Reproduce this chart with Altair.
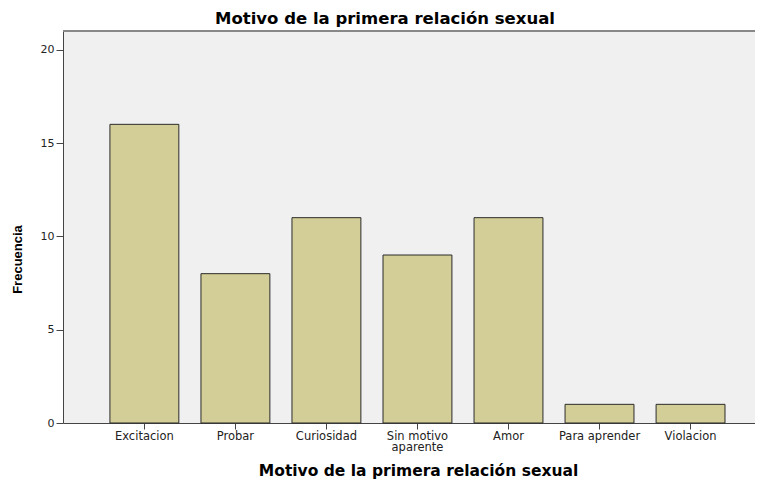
import altair as alt
import pandas as pd

categories = ["Excitacion", "Probar", "Curiosidad", "Sin motivo aparente", "Amor", "Para aprender", "Violacion"]
frecuencias = [16, 8, 11, 9, 11, 1, 1]
y_ticks = [0, 5, 10, 15, 20]

df = pd.DataFrame({"motivo": categories, "frecuencia": frecuencias})

label_expr = "datum.label == 'Sin motivo aparente' ? ['Sin motivo', 'aparente'] : datum.label"

bars = alt.Chart(df).mark_bar(
    color="#d3ce97", stroke="#2b2b2b", strokeWidth=1
).encode(
    x=alt.X(
        "motivo:N",
        sort=categories,
        scale=alt.Scale(paddingInner=0.243, paddingOuter=0.4226, align=0.61),
        axis=alt.Axis(
            title="Motivo de la primera relación sexual",
            titleFont="DejaVu Sans", titleFontSize=15.5, titleFontWeight="bold",
            titleColor="#000000", titleX=355, titleY=52, titleBaseline="alphabetic",
            titleAlign="center",
            labelFont="DejaVu Sans", labelFontSize=11.5, labelColor="#222222",
            labelAngle=0, labelBaseline="top", labelPadding=1, labelLineHeight=11.5,
            labelExpr=label_expr,
            tickSize=6, tickColor="#444444", domainColor="#444444",
        ),
    ),
    y=alt.Y(
        "frecuencia:Q",
        scale=alt.Scale(domain=[0, 21], nice=False, zero=True),
        axis=alt.Axis(
            title="Frecuencia", values=y_ticks, grid=False,
            titleFont="Liberation Sans", titleFontSize=13, titleFontWeight="bold",
            titleColor="#000000", titleAngle=270, titleX=-46, titleY=228,
            titleAlign="center", titleBaseline="middle",
            labelFont="DejaVu Sans", labelFontSize=11, labelColor="#222222",
            labelPadding=2, tickSize=7, tickColor="#444444", domainColor="#444444",
        ),
    ),
)

top_border = alt.Chart(df).mark_rule(color="#888888", strokeWidth=1.5).encode(
    x=alt.value(0), x2=alt.value(692), y=alt.value(0)
)

chart = alt.layer(bars, top_border).properties(
    width=692,
    height=392,
    title=alt.TitleParams(
        "Motivo de la primera relación sexual",
        font="DejaVu Sans", fontSize=16.5, fontWeight="bold", color="#000000",
        anchor="middle", offset=3, dx=-24,
    ),
    autosize=alt.AutoSizeParams(type="none"),
    padding={"left": 55, "top": 23, "right": 0, "bottom": 56},
).configure(background="#ffffff").configure_view(
    fill="#f0f0f0", stroke=None
)
chart.save("out.html", embed_options={"renderer": "svg", "actions": False})
